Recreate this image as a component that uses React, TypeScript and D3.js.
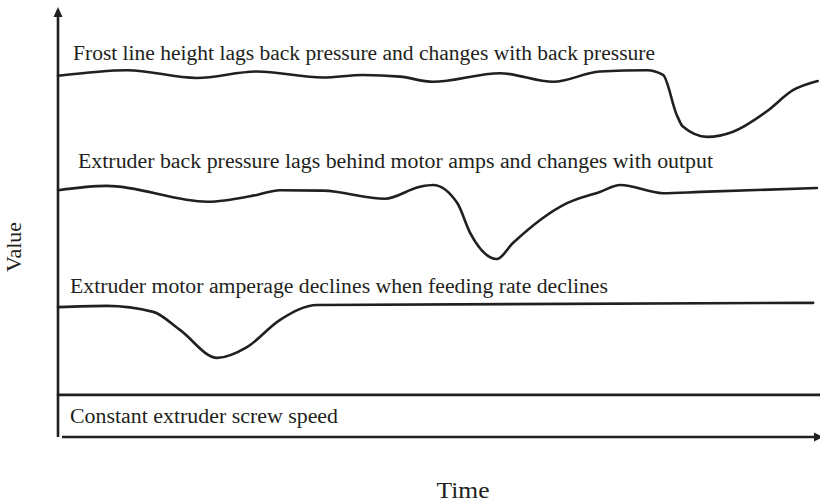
import * as d3 from "d3";

// time runs 0..100 along the x axis, value 0..100 up the y axis
const frostTime = [0, 9.1, 18.2, 26.1, 34.8, 40.0, 44.9, 49.2, 58.0, 65.0, 71.1, 77.3, 79.4, 81.2, 82.0, 85.2, 88.6, 93.0, 96.5, 99.7];
const frostValue = [84.0, 85.3, 83.5, 85.0, 83.6, 84.2, 83.8, 82.6, 84.6, 82.6, 85.0, 85.3, 84.2, 74.9, 72.2, 69.8, 71.0, 75.7, 80.7, 82.8];

const pressureTime = [0, 6.4, 19.6, 26.1, 29.1, 34.8, 42.9, 47.5, 49.2, 52.4, 54.1, 57.6, 59.7, 66.8, 71.1, 73.8, 79.4, 84.3, 99.6];
const pressureValue = [57.4, 58.4, 54.7, 56.3, 57.4, 57.3, 55.4, 58.2, 58.6, 54.4, 47.4, 41.4, 45.1, 54.4, 57.0, 58.6, 56.7, 57.0, 57.9];

const ampsTime = [0, 6.4, 12.5, 16.0, 20.9, 24.8, 29.1, 34.0, 99.1];
const ampsValue = [30.2, 30.5, 29.1, 24.9, 18.4, 20.9, 27.2, 30.7, 31.2];

const screwTime = [0, 100];
const screwValue = [9.8, 9.8];

const seriesLabels = [
  "Frost line height lags back pressure and changes with back pressure",
  "Extruder back pressure lags behind motor amps and changes with output",
  "Extruder motor amperage declines when feeding rate declines",
  "Constant extruder screw speed",
];

const xTitle = "Time";
const yTitle = "Value";

// label layout (pixel offsets, not data)
const labelLayout = [
  { x: 73, y: 60, len: 582 },
  { x: 78, y: 168, len: 635 },
  { x: 70, y: 293, len: 538 },
  { x: 70, y: 423, len: 268 },
];

const W = 820;
const H = 503;
const INK = "#231f20";
const FONT = "'Liberation Serif', 'DejaVu Serif', serif";

const x = d3.scaleLinear().domain([0, 100]).range([58, 820]);
const y = d3.scaleLinear().domain([0, 100]).range([437, 7]);

const line = d3
  .line<[number, number]>()
  .x((d) => x(d[0]))
  .y((d) => y(d[1]))
  .curve(d3.curveMonotoneX);

const zip = (t: number[], v: number[]): [number, number][] => t.map((d, i) => [d, v[i]]);

const series = [
  zip(frostTime, frostValue),
  zip(pressureTime, pressureValue),
  zip(ampsTime, ampsValue),
  zip(screwTime, screwValue),
];

const App = () => {
  const x0 = x(0);
  const y0 = y(0);
  const yTop = y(100);
  return (
    <svg
      width={W}
      height={H}
      style={{ position: "absolute", left: 0, top: 0, background: "#fff" }}
    >
      {series.map((s, i) => (
        <path
          key={i}
          d={line(s) || ""}
          fill="none"
          stroke={INK}
          strokeWidth={2.6}
          strokeLinecap="round"
          strokeLinejoin="round"
        />
      ))}

      {/* y axis */}
      <line x1={x0} x2={x0} y1={y0} y2={yTop + 8} stroke={INK} strokeWidth={2.6} />
      <path
        d={`M${x0},${yTop} L${x0 - 4.5},${yTop + 10} L${x0 + 4.5},${yTop + 10} Z`}
        fill={INK}
      />
      {/* x axis */}
      <line x1={x0 + 4} x2={W - 4} y1={y0} y2={y0} stroke={INK} strokeWidth={2.6} />
      <path
        d={`M${W + 3},${y0} L${W - 6},${y0 - 4.5} L${W - 6},${y0 + 4.5} Z`}
        fill={INK}
      />

      {seriesLabels.map((t, i) => (
        <text
          key={t}
          x={labelLayout[i].x}
          y={labelLayout[i].y}
          fontFamily={FONT}
          fontSize={20}
          fill={INK}
          textLength={labelLayout[i].len}
          lengthAdjust="spacingAndGlyphs"
        >
          {t}
        </text>
      ))}

      <text
        x={463}
        y={498}
        textAnchor="middle"
        fontFamily={FONT}
        fontSize={23}
        fill={INK}
        textLength={53}
        lengthAdjust="spacingAndGlyphs"
      >
        {xTitle}
      </text>
      <text
        transform={`translate(21,247) rotate(-90)`}
        textAnchor="middle"
        fontFamily={FONT}
        fontSize={21}
        fill={INK}
        textLength={50}
        lengthAdjust="spacingAndGlyphs"
      >
        {yTitle}
      </text>
    </svg>
  );
};

export default App;
